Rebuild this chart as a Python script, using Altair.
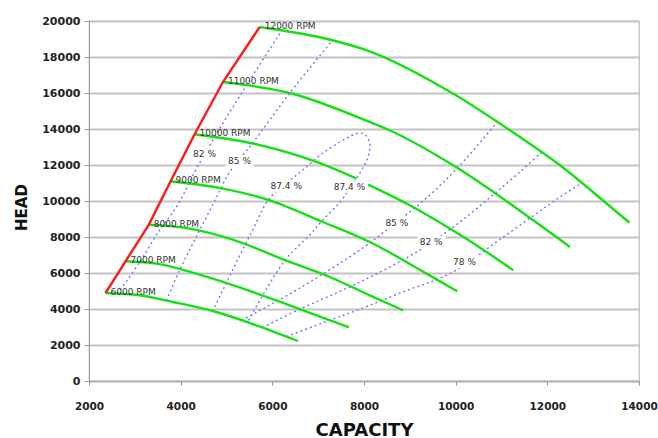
import altair as alt
import pandas as pd

# ---------------- axis ticks ----------------
x_ticks = [2000, 4000, 6000, 8000, 10000, 12000, 14000]
y_ticks = [0, 2000, 4000, 6000, 8000, 10000, 12000, 14000, 16000, 18000, 20000]

# ---------------- speed lines (CAPACITY, HEAD) ----------------
rpm6000_x = [2360, 3103, 3830, 4778, 5652, 6560]
rpm6000_y = [4889, 4761, 4389, 3834, 3095, 2222]
rpm7000_x = [2797, 3468, 4341, 5359, 6379, 7674]
rpm7000_y = [6650, 6523, 5967, 5134, 4206, 2983]
rpm8000_x = [3306, 4195, 5068, 6379, 7252, 8126, 8854]
rpm8000_y = [8689, 8467, 7912, 6612, 5778, 4761, 3928]
rpm9000_x = [3780, 4922, 5942, 7106, 8126, 9364, 10033]
rpm9000_y = [11095, 10690, 10040, 8834, 7723, 5967, 4983]
rpm10000a_x = [4304, 5577, 6962, 7835]
rpm10000a_y = [13706, 13190, 12168, 11245]
rpm10000b_x = [8089, 9000, 9873, 10675, 11256]
rpm10000b_y = [10912, 9762, 8467, 7167, 6150]
rpm11000_x = [4922, 6379, 8126, 8557, 9945, 11693, 12494]
rpm11000_y = [16611, 16001, 14390, 13929, 11984, 8928, 7445]
rpm12000_x = [5724, 7313, 8121, 9932, 11184, 12276, 13339, 13790]
rpm12000_y = [19667, 18929, 18318, 15984, 13929, 11984, 9762, 8800]

rpm_names = ["6000 RPM", "7000 RPM", "8000 RPM", "9000 RPM", "10000 RPM", "11000 RPM", "12000 RPM"]

# ---------------- surge line ----------------
surge_x = [2360, 2797, 3306, 3780, 4304, 4922, 5724]
surge_y = [4889, 6650, 8689, 11095, 13706, 16611, 19667]

# ---------------- efficiency contours ----------------
eff82L_x = [2622, 3102, 3538, 3931, 4302, 4738, 5328, 6200]
eff82L_y = [4840, 6595, 8373, 9762, 11595, 13540, 15984, 19450]
eff85L_x = [3691, 3975, 4302, 4695, 5066, 5568, 6375, 7313]
eff85L_y = [4470, 6150, 7817, 9762, 11595, 13207, 15984, 18929]
eff874_x = [4695, 5109, 5546, 5939, 6331, 6659, 7095, 7619, 7859, 8011, 8121, 8099,
            7946, 7728, 7510, 7095, 6811, 6309, 5829, 5458]
eff874_y = [3870, 6039, 8262, 10151, 11040, 11706, 12651, 13484, 13762, 13706, 13262, 12540,
            11706, 10873, 10040, 8928, 8095, 6817, 4928, 3260]
eff85R_x = [5328, 6593, 7902, 8404, 9430, 10194, 10900]
eff85R_y = [3372, 5150, 7262, 8206, 10318, 12262, 14380]
eff82R_x = [5786, 6593, 7902, 9212, 10084, 10805, 11393, 11874]
eff82R_y = [2970, 3984, 5484, 7262, 8817, 10318, 11595, 12707]
eff78R_x = [6309, 7248, 7902, 8884, 9888, 11001, 12332, 12746]
eff78R_y = [2470, 3372, 3984, 4984, 5984, 7928, 10318, 10980]

eff_labels = ["82 %", "85 %", "87.4 %", "87.4 %", "85 %", "82 %", "78 %"]
eff_label_x = [4520, 5284, 6303, 7684, 8716, 9467, 10194]
eff_label_y = [12596, 12223, 10834, 10779, 8801, 7723, 6612]

# ---------------- build tables ----------------
def table(pairs):
    rows = []
    for name, xs, ys in pairs:
        for i, (xv, yv) in enumerate(zip(xs, ys)):
            rows.append({"x": xv, "y": yv, "curve": name, "order": i})
    return pd.DataFrame(rows)

speed_df = table([
    ("6000", rpm6000_x, rpm6000_y),
    ("7000", rpm7000_x, rpm7000_y),
    ("8000", rpm8000_x, rpm8000_y),
    ("9000", rpm9000_x, rpm9000_y),
    ("10000a", rpm10000a_x, rpm10000a_y),
    ("10000b", rpm10000b_x, rpm10000b_y),
    ("11000", rpm11000_x, rpm11000_y),
    ("12000", rpm12000_x, rpm12000_y),
])
surge_df = table([("surge", surge_x, surge_y)])
eff_df = table([
    ("82L", eff82L_x, eff82L_y),
    ("85L", eff85L_x, eff85L_y),
    ("874", eff874_x, eff874_y),
    ("85R", eff85R_x, eff85R_y),
    ("82R", eff82R_x, eff82R_y),
    ("78R", eff78R_x, eff78R_y),
])
rpm_df = pd.DataFrame({"x": surge_x, "y": surge_y, "label": rpm_names})
eff_lab_df = pd.DataFrame({"x": eff_label_x, "y": eff_label_y, "label": eff_labels})

# ---------------- scales / axes ----------------
FONT = "DejaVu Sans"
xscale = alt.Scale(domain=[2000, 14000], nice=False, zero=False)
yscale = alt.Scale(domain=[0, 20000], nice=False, zero=False)
xaxis = alt.Axis(values=x_ticks, format="d", grid=False, title="CAPACITY",
                 domainColor="#b0b0b0", domainWidth=1.5, tickColor="#909090", tickSize=4,
                 labelFont=FONT, labelFontWeight="bold", labelFontSize=10.5, labelColor="#222",
                 labelPadding=21, labelBaseline="middle", labelFlush=False, labelOverlap=False,
                 titleFont=FONT, titleFontWeight="bold", titleFontSize=18, titleColor="#111",
                 titleY=49, titleBaseline="middle")
yaxis = alt.Axis(values=y_ticks, format="d", grid=True, gridColor="#c3c3c3", gridWidth=1.8,
                 title="HEAD", domainColor="#999999", tickColor="#999999", tickSize=5,
                 labelFont=FONT, labelFontWeight="bold", labelFontSize=11, labelColor="#222",
                 labelPadding=4, labelOverlap=False,
                 titleFont=FONT, titleFontWeight="bold", titleFontSize=15, titleColor="#111",
                 titleX=-68, titleY=186, titleAngle=270, titleAlign="center", titleBaseline="middle")

X = alt.X("x:Q", scale=xscale, axis=xaxis)
Y = alt.Y("y:Q", scale=yscale, axis=yaxis)

eff_lines = alt.Chart(eff_df).mark_line(
    color="#7474ff", strokeWidth=1.4, strokeDash=[2, 3], interpolate="catmull-rom"
).encode(x=X, y=Y, detail="curve:N", order="order:Q")

speed_lines = alt.Chart(speed_df).mark_line(
    color="#14e014", strokeWidth=2.4, interpolate="monotone"
).encode(x=X, y=Y, detail="curve:N", order="order:Q")

surge_line = alt.Chart(surge_df).mark_line(
    color="#ff1a1a", strokeWidth=2.4, interpolate="linear"
).encode(x=X, y=Y, order="order:Q")

short_box = alt.Chart(eff_lab_df).transform_filter("length(datum.label) <= 4").mark_point(
    shape="M-1,-0.43H1V0.43H-1Z", filled=True, color="white", opacity=1, size=784, strokeWidth=0
).encode(x=X, y=Y)
long_box = alt.Chart(eff_lab_df).transform_filter("length(datum.label) > 4").mark_point(
    shape="M-1,-0.34H1V0.34H-1Z", filled=True, color="white", opacity=1, size=1296, strokeWidth=0
).encode(x=X, y=Y)

eff_text = alt.Chart(eff_lab_df).mark_text(
    font=FONT, fontSize=9, color="#333333", align="center", baseline="middle"
).encode(x=X, y=Y, text="label:N")

rpm_text = alt.Chart(rpm_df).mark_text(
    font=FONT, fontSize=9, color="#333333", align="left", baseline="middle", dx=5, dy=-1
).encode(x=X, y=Y, text="label:N")

chart = alt.layer(
    eff_lines, speed_lines, surge_line, short_box, long_box, eff_text, rpm_text
).properties(
    width=550, height=360,
    padding={"left": 89, "top": 21, "right": 19, "bottom": 57},
    autosize="none", background="white"
).configure_view(stroke="#bdbdbd", strokeWidth=1.2)

chart.save("out.html", embed_options={"renderer": "svg", "actions": False})
